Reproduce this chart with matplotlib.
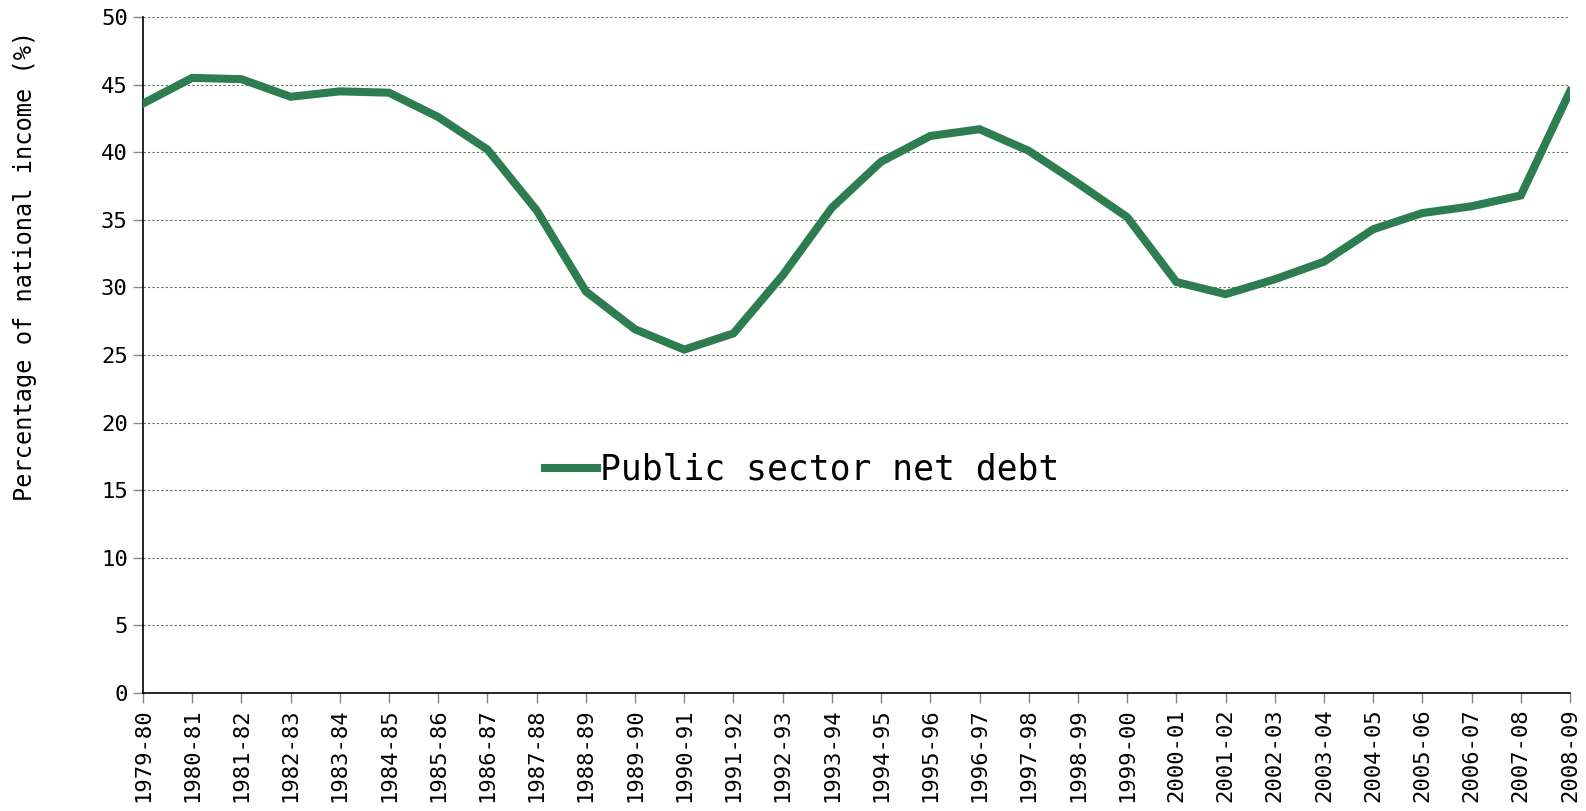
import matplotlib.pyplot as plt

# Fiscal years and public sector net debt (% of national income)
years = ["1979-80", "1980-81", "1981-82", "1982-83", "1983-84", "1984-85",
         "1985-86", "1986-87", "1987-88", "1988-89", "1989-90", "1990-91",
         "1991-92", "1992-93", "1993-94", "1994-95", "1995-96", "1996-97",
         "1997-98", "1998-99", "1999-00", "2000-01", "2001-02", "2002-03",
         "2003-04", "2004-05", "2005-06", "2006-07", "2007-08", "2008-09"]
net_debt = [43.6, 45.5, 45.4, 44.1, 44.5, 44.4, 42.6, 40.2, 35.7, 29.7,
            26.9, 25.4, 26.6, 30.9, 35.9, 39.3, 41.2, 41.7, 40.1, 37.7,
            35.2, 30.4, 29.5, 30.6, 31.9, 34.3, 35.5, 36.0, 36.8, 44.5]
y_ticks = list(range(0, 51, 5))

plt.rcParams["font.family"] = ["DejaVu Sans Mono"]

fig = plt.figure(figsize=(15.86, 8.11), dpi=100)
ax = fig.add_axes([143 / 1586, 1 - 693 / 811, (1570 - 143) / 1586, (693 - 17) / 811])

x = list(range(len(years)))
ax.plot(x, net_debt, color="#2e7d50", linewidth=5.8, solid_joinstyle="miter",
        label="Public sector net debt", zorder=3)

ax.set_xlim(0, len(years) - 1)
ax.set_ylim(0, 50)
ax.set_yticks(y_ticks)
ax.set_yticklabels([str(v) for v in y_ticks], fontsize=16)
ax.set_xticks(x)
ax.set_xticklabels(years, rotation=90, fontsize=16)
ax.tick_params(axis="both", length=7, width=1, color="#888888", pad=4)

ax.yaxis.grid(True, linestyle=(0, (2, 2)), color="#557755", linewidth=0.8)
ax.set_axisbelow(True)
for side in ("top", "right"):
    ax.spines[side].set_visible(False)
for side in ("left", "bottom"):
    ax.spines[side].set_linewidth(1.2)

ax.set_ylabel("Percentage of national income (%)", fontsize=17, va="center")
ax.yaxis.set_label_coords(-0.083, 0.632)

ax.legend(loc="center", bbox_to_anchor=(0.462, 0.33), frameon=False,
          fontsize=25, handlelength=1.5, handletextpad=0.1)

fig.savefig("out.png", dpi=100)
